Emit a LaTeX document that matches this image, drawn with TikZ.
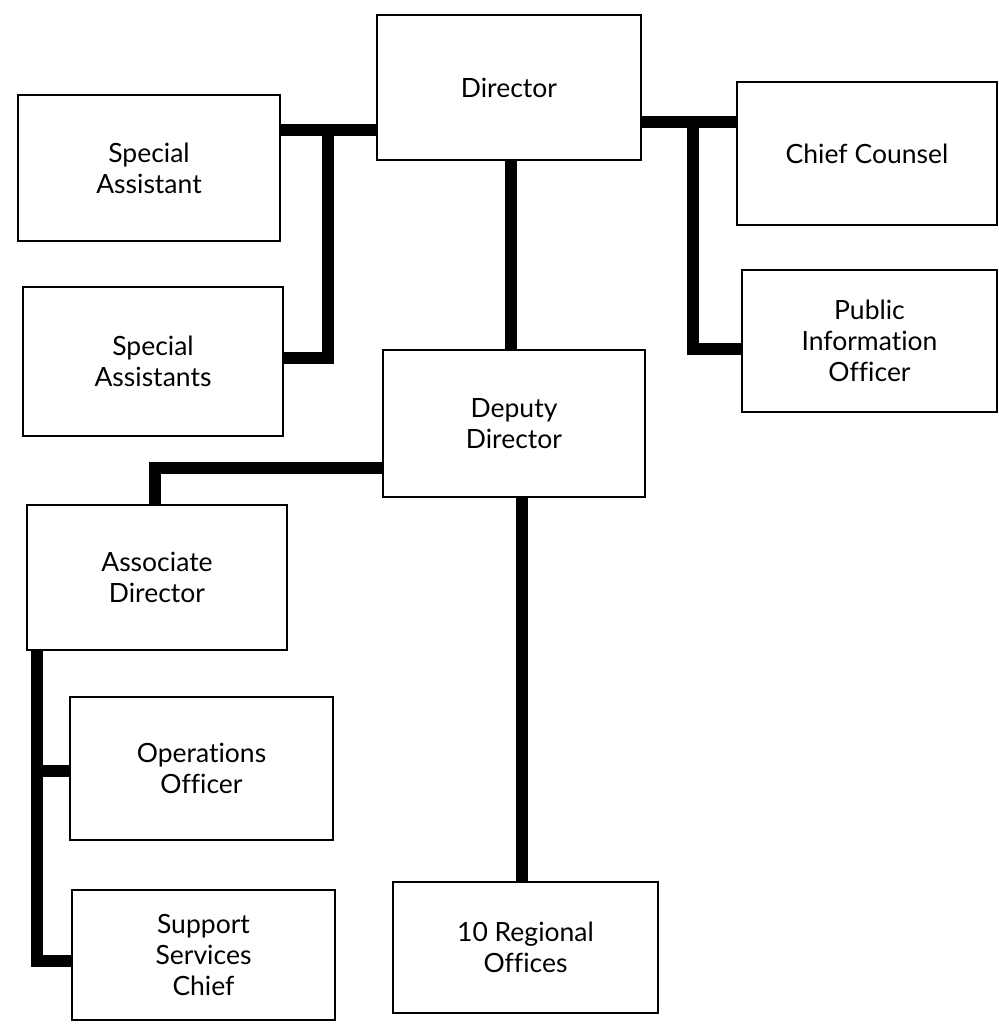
\documentclass[tikz,border=0pt]{standalone}
\usepackage{fontspec}
\setmainfont{Lato}[Ligatures=NoCommon]
\begin{document}
\begin{tikzpicture}[x=1pt,y=-1pt,
  office/.style={draw, line width=2.2pt, rectangle, align=center, inner sep=0pt,
    font=\fontsize{26.5}{31}\selectfont},
  link/.style={line width=12pt, line join=miter}]
\useasboundingbox (0,0) rectangle (998,1027);

% offices
\node[office, minimum width=262pt, minimum height=146pt] (sa)  at (149,168)   {Special\\Assistant};
\node[office, minimum width=260pt, minimum height=149pt] (sas) at (153,361.5) {Special\\Assistants};
\node[office, minimum width=264pt, minimum height=145pt] (dir) at (509,87.5)  {Director};
\node[office, minimum width=260pt, minimum height=143pt] (cc)  at (867,153.5) {Chief Counsel};
\node[office, minimum width=255pt, minimum height=142pt] (pio) at (869.5,341) {Public\\Information\\Officer};
\node[office, minimum width=262pt, minimum height=147pt] (dep) at (514,423.5) {Deputy\\Director};
\node[office, minimum width=260pt, minimum height=145pt] (ad)  at (157,577.5) {Associate\\Director};
\node[office, minimum width=263pt, minimum height=143pt] (ops) at (201.5,768.5) {Operations\\Officer};
\node[office, minimum width=263pt, minimum height=130pt] (ss)  at (203.5,955) {Support\\Services\\Chief};
\node[office, minimum width=265pt, minimum height=131pt] (reg) at (525.5,947.5) {10 Regional\\Offices};

% reporting lines
\draw[link] (sa.east |- 0,130) -- (dir.west |- 0,130);
\draw[link] (328,130) -- (328,358) -- (sas.east |- 0,358);
\draw[link] (dir.south -| 511,0) -- (dep.north -| 511,0);
\draw[link] (dir.east |- 0,122) -- (cc.west |- 0,122);
\draw[link] (693,122) -- (693,349) -- (pio.west |- 0,349);
\draw[link] (dep.west |- 0,468) -- (155,468) -- (ad.north -| 155,0);
\draw[link] (dep.south -| 522,0) -- (reg.north -| 522,0);
\draw[link] (ad.south -| 37,0) -- (37,961) -- (ss.west |- 0,961);
\draw[link] (37,771) -- (ops.west |- 0,771);
\end{tikzpicture}
\end{document}
